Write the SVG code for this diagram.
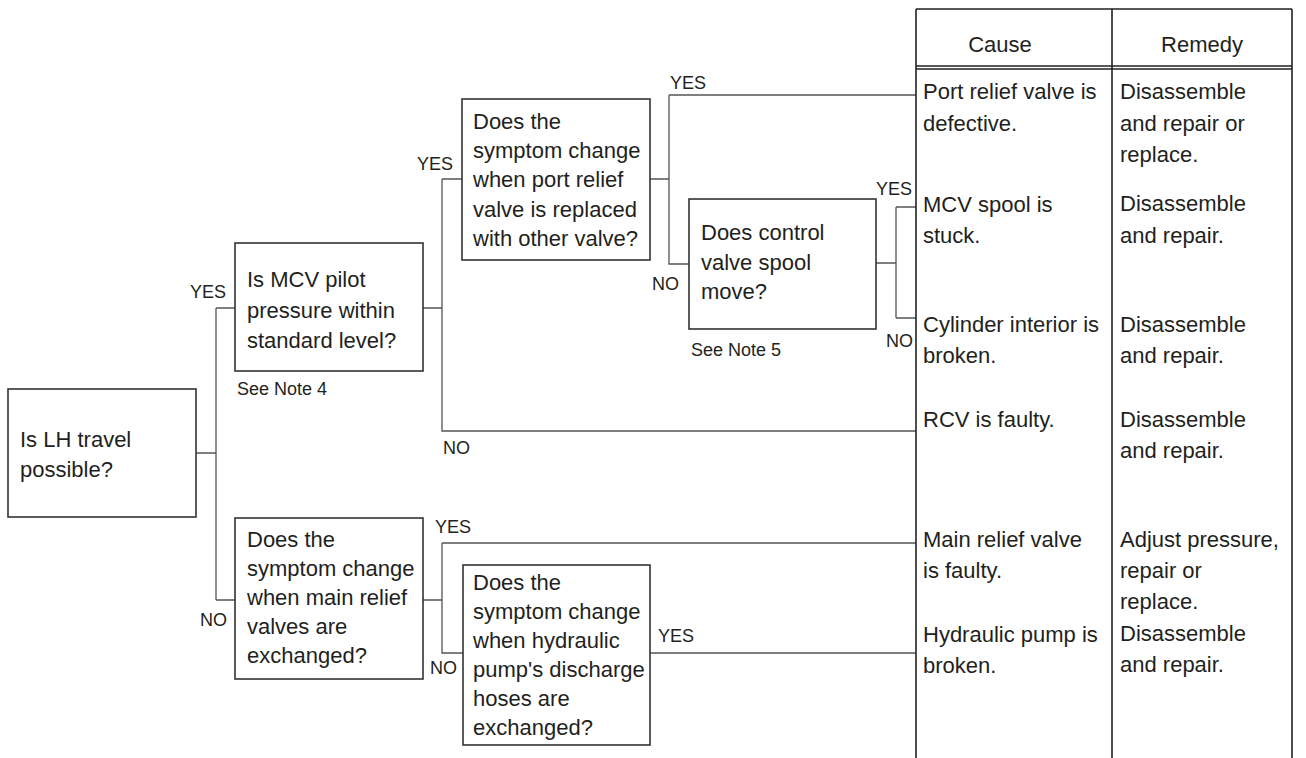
<svg xmlns="http://www.w3.org/2000/svg" width="1306" height="758" viewBox="0 0 1306 758">
<style>
text{font-family:"Liberation Sans",Arial,sans-serif;fill:#231f20}
.q{font-size:22px}
.t{font-size:22px}
.h{font-size:22px;text-anchor:middle}
.l{font-size:18px}
.n{font-size:18px}
.box{fill:#fff;stroke:#333;stroke-width:1.6}
.c{fill:none;stroke:#555;stroke-width:1.3}
.tb{fill:none;stroke:#222;stroke-width:1.6}
</style>
<rect width="1306" height="758" fill="#fff"/>
<g id="connectors">
<path class="c" d="M196 453H216M216 308V600M216 308H235M216 600H235"/>
<path class="c" d="M423 308H442M442 179V431H916M442 179H462"/>
<path class="c" d="M650 179H669M669 95V264H689M669 95H916"/>
<path class="c" d="M876 263H896M896 207V318M896 207H916M896 318H916"/>
<path class="c" d="M423 600H442M442 543V653H463M442 543H916"/>
<path class="c" d="M650 653H916"/>
</g>
<g id="labels">
<text class="l" x="190" y="298">YES</text>
<text class="l" x="200" y="626">NO</text>
<text class="l" x="417" y="170">YES</text>
<text class="l" x="443" y="454">NO</text>
<text class="l" x="670" y="89">YES</text>
<text class="l" x="652" y="290">NO</text>
<text class="l" x="876" y="195">YES</text>
<text class="l" x="886" y="347">NO</text>
<text class="l" x="435" y="533">YES</text>
<text class="l" x="430" y="674">NO</text>
<text class="l" x="658" y="642">YES</text>
</g>
<g id="q-lh">
<rect class="box" x="8" y="389" width="188" height="128"/>
<text class="q" x="20" y="447">Is LH travel</text>
<text class="q" x="20" y="477">possible?</text>
</g>
<g id="q-mcv-pilot">
<rect class="box" x="235" y="243" width="188" height="128"/>
<text class="q" x="247" y="287">Is MCV pilot</text>
<text class="q" x="247" y="318">pressure within</text>
<text class="q" x="247" y="348">standard level?</text>
<text class="n" x="237" y="395">See Note 4</text>
</g>
<g id="q-port-relief">
<rect class="box" x="462" y="99" width="188" height="161"/>
<text class="q" x="473" y="129">Does the</text>
<text class="q" x="473" y="158">symptom change</text>
<text class="q" x="473" y="187">when port relief</text>
<text class="q" x="473" y="217">valve is replaced</text>
<text class="q" x="473" y="246">with other valve?</text>
</g>
<g id="q-control-spool">
<rect class="box" x="689" y="199" width="187" height="130"/>
<text class="q" x="701" y="240">Does control</text>
<text class="q" x="701" y="270">valve spool</text>
<text class="q" x="701" y="299">move?</text>
<text class="n" x="691" y="356">See Note 5</text>
</g>
<g id="q-main-relief">
<rect class="box" x="235" y="518" width="188" height="161"/>
<text class="q" x="247" y="547">Does the</text>
<text class="q" x="247" y="576">symptom change</text>
<text class="q" x="247" y="605">when main relief</text>
<text class="q" x="247" y="634">valves are</text>
<text class="q" x="247" y="663">exchanged?</text>
</g>
<g id="q-pump-hoses">
<rect class="box" x="463" y="565" width="187" height="180"/>
<text class="q" x="473" y="590">Does the</text>
<text class="q" x="473" y="619">symptom change</text>
<text class="q" x="473" y="648">when hydraulic</text>
<text class="q" x="473" y="677">pump's discharge</text>
<text class="q" x="473" y="706">hoses are</text>
<text class="q" x="473" y="735">exchanged?</text>
</g>
<g id="table">
<path class="tb" d="M916 9H1292M916 66H1292M916 69H1292M916 9V758M1112 9V758M1292 9V758"/>
<text class="h" x="1000" y="52">Cause</text>
<text class="h" x="1202" y="52">Remedy</text>
</g>
<g id="r-port-relief">
<text class="t" x="923" y="99">Port relief valve is</text>
<text class="t" x="923" y="131">defective.</text>
<text class="t" x="1120" y="99">Disassemble</text>
<text class="t" x="1120" y="131">and repair or</text>
<text class="t" x="1120" y="162">replace.</text>
</g>
<g id="r-mcv-spool">
<text class="t" x="923" y="212">MCV spool is</text>
<text class="t" x="923" y="243">stuck.</text>
<text class="t" x="1120" y="211">Disassemble</text>
<text class="t" x="1120" y="243">and repair.</text>
</g>
<g id="r-cylinder">
<text class="t" x="923" y="332">Cylinder interior is</text>
<text class="t" x="923" y="363">broken.</text>
<text class="t" x="1120" y="332">Disassemble</text>
<text class="t" x="1120" y="363">and repair.</text>
</g>
<g id="r-rcv">
<text class="t" x="923" y="427">RCV is faulty.</text>
<text class="t" x="1120" y="427">Disassemble</text>
<text class="t" x="1120" y="458">and repair.</text>
</g>
<g id="r-main-relief">
<text class="t" x="923" y="547">Main relief valve</text>
<text class="t" x="923" y="578">is faulty.</text>
<text class="t" x="1120" y="547">Adjust pressure,</text>
<text class="t" x="1120" y="578">repair or</text>
<text class="t" x="1120" y="609">replace.</text>
</g>
<g id="r-pump">
<text class="t" x="923" y="642">Hydraulic pump is</text>
<text class="t" x="923" y="673">broken.</text>
<text class="t" x="1120" y="641">Disassemble</text>
<text class="t" x="1120" y="672">and repair.</text>
</g>
</svg>
